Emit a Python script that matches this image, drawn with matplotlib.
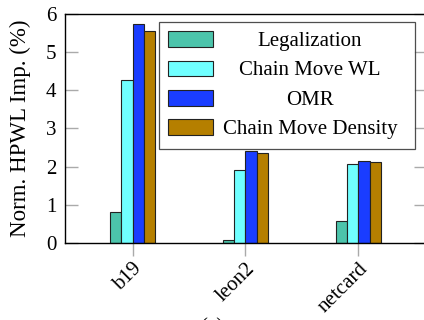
import numpy as np
import matplotlib
matplotlib.use('Agg')
from matplotlib import pyplot as plt

# Benchmarks and HPWL improvement per method (%)
designs = ['b19', 'leon2', 'netcard']
legalization = [0.81, 0.08, 0.58]
chain_move_wl = [4.27, 1.90, 2.06]
omr = [5.73, 2.41, 2.14]
chain_move_density = [5.55, 2.36, 2.13]

series = [
    ('Legalization', legalization, '#4cc4ab'),
    ('Chain Move WL', chain_move_wl, '#70ffff'),
    ('OMR', omr, '#1a3dff'),
    ('Chain Move Density', chain_move_density, '#b57f00'),
]

plt.rcParams['font.family'] = ['Liberation Serif', 'DejaVu Serif']
plt.rcParams['mathtext.fontset'] = 'stix'
fs = 15

fig = plt.figure(figsize=(4.24, 3.2), dpi=100)
ax = fig.add_axes([0.153, 0.241, 0.852, 0.715])

x = np.arange(len(designs))
w = 0.1
bars = []
for i, (name, vals, col) in enumerate(series):
    b = ax.bar(x + (i - 1.5) * w, vals, w, color=col, edgecolor='#222222',
               linewidth=0.8, zorder=2)
    bars.append(b)

ax.set_xlim(-0.6, 2.6)
ax.set_ylim(0, 6)
ax.set_yticks(range(7))
ax.set_xticks(x)
ax.set_xticklabels(designs, rotation=45, ha='right', rotation_mode='anchor', fontsize=fs)
ax.tick_params(axis='y', labelsize=fs, direction='in', length=9, color='#aaaaaa',
               right=True, width=1, pad=6)
ax.tick_params(axis='x', direction='out', length=9, color='#aaaaaa', width=1, pad=3)
ax.set_ylabel('Norm. HPWL Imp. (%)', fontsize=16.5, labelpad=11)
for s in ax.spines.values():
    s.set_linewidth(1)

# legend: boxes on the left, labels centred in the remaining space
leg = ax.legend([b[0] for b in bars], [''] * 4, loc='upper left',
                bbox_to_anchor=(0.260, 0.0, 0.709, 0.965), mode='expand',
                fontsize=fs, frameon=True, fancybox=False, edgecolor='#222222',
                handlelength=2.16, handleheight=0.76, handletextpad=0.5,
                borderpad=0.45, labelspacing=0.45, borderaxespad=0)
leg.get_frame().set_linewidth(0.9)

fig.canvas.draw()
frame = leg.get_frame().get_window_extent()
inv = fig.transFigure.inverted()
for h, (name, _, _) in zip(leg.legend_handles, series):
    hb = h.get_window_extent()
    cx = (hb.x1 + frame.x1) / 2 - 4
    cy = (hb.y0 + hb.y1) / 2
    fx, fy = inv.transform((cx, cy))
    fig.text(fx, fy, name, ha='center', va='center_baseline', fontsize=fs)

fig.text(0.5, 0.006, '(a)', ha='center', va='top', fontsize=fs)

plt.savefig('out.png', dpi=100)
